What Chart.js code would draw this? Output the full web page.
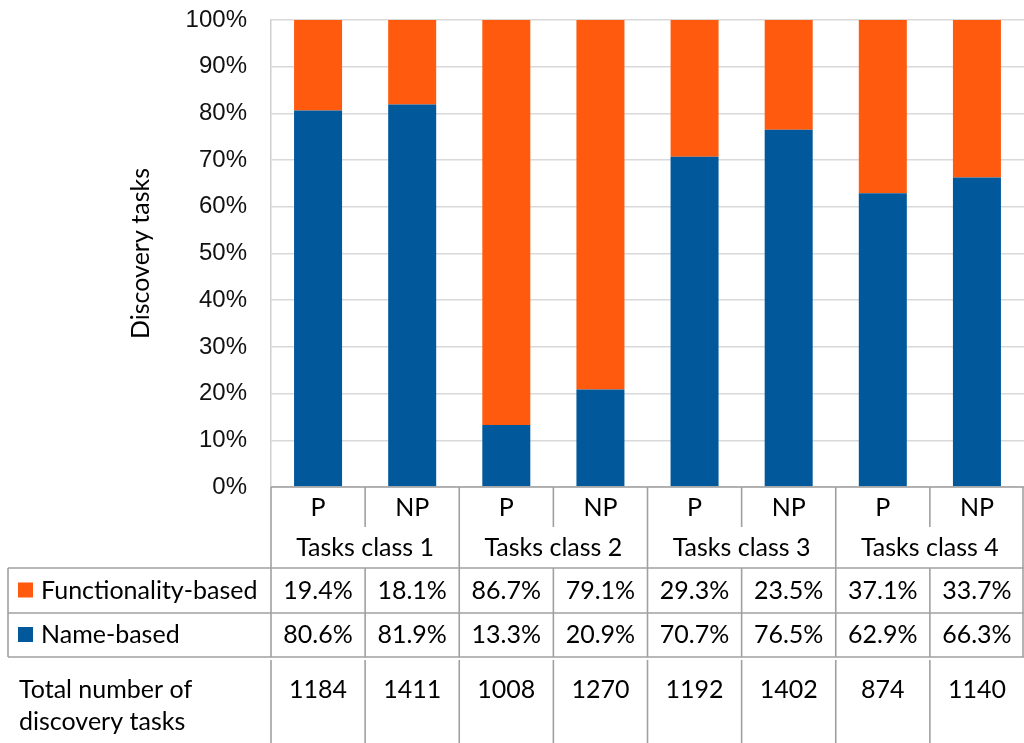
<!DOCTYPE html>
<html>
<head>
<meta charset="utf-8">
<script src="https://cdn.jsdelivr.net/npm/chart.js@4.4.1/dist/chart.umd.min.js"></script>
<style>
  html, body { margin: 0; padding: 0; background: #fff; }
  #wrap { width: 1024px; height: 743px; position: relative; }
</style>
</head>
<body>
<div id="wrap"><canvas id="chart"></canvas></div>
<script>
// data
const groupLabels = ['Tasks class 1', 'Tasks class 2', 'Tasks class 3', 'Tasks class 4'];
const subLabels = ['P', 'NP', 'P', 'NP', 'P', 'NP', 'P', 'NP'];
const functionalityBased = [19.4, 18.1, 86.7, 79.1, 29.3, 23.5, 37.1, 33.7];
const nameBased = [80.6, 81.9, 13.3, 20.9, 70.7, 76.5, 62.9, 66.3];
const totalTasks = [1184, 1411, 1008, 1270, 1192, 1402, 874, 1140];
const seriesNames = ['Functionality-based', 'Name-based'];
const totalLabel = ['Total number of', 'discovery tasks'];

const ORANGE = '#ff5a0e';
const BLUE = '#01599b';
const LINE = '#a0a0a0';
const TABLE_FONT = '25px Lato';

// draws the data table under the plot, aligned to the category columns
const dataTable = {
    id: 'dataTable',
    afterDraw(chart) {
        const ctx = chart.ctx;
        const a = chart.chartArea;
        const n = subLabels.length;
        const colW = (a.right - a.left) / n;
        const edge = i => a.left + i * colW;
        const mid = i => a.left + (i + 0.5) * colW;

        const y0 = a.bottom;      // top of P/NP row
        const y1 = y0 + 40;       // top of group row
        const y2 = y0 + 81;       // top of legend rows
        const y3 = y2 + 45;
        const y4 = y3 + 44;
        const y5 = y4 + 3;        // top of totals row
        const yEnd = chart.height;
        const legendLeft = 8;

        ctx.save();
        ctx.strokeStyle = LINE;
        ctx.lineWidth = 1.6;
        const line = (xa, ya, xb, yb) => {
            ctx.beginPath();
            ctx.moveTo(xa, ya);
            ctx.lineTo(xb, yb);
            ctx.stroke();
        };

        // category header rows
        line(a.left, y0, a.right, y0);
        for (let i = 0; i <= n; i++) {
            const x = Math.min(edge(i), a.right - 1);
            line(x, y0, x, i % 2 === 0 ? y2 : y1);
        }
        // legend rows
        line(legendLeft, y2, a.right, y2);
        line(legendLeft, y3, a.right, y3);
        line(legendLeft, y4, a.right, y4);
        line(legendLeft, y2, legendLeft, y4);
        for (let i = 0; i <= n; i++) {
            const x = Math.min(edge(i), a.right - 1);
            line(x, y2, x, y4);
            if (i < n) line(x, y5, x, yEnd);
        }

        ctx.fillStyle = '#000';
        ctx.font = TABLE_FONT;
        ctx.textBaseline = 'middle';
        ctx.textAlign = 'center';
        subLabels.forEach((s, i) => ctx.fillText(s, mid(i), (y0 + y1) / 2 + 1));
        groupLabels.forEach((g, k) => ctx.fillText(g, edge(2 * k + 1), (y1 + y2) / 2));

        const fmt = v => v.toFixed(1) + '%';
        functionalityBased.forEach((v, i) => ctx.fillText(fmt(v), mid(i), (y2 + y3) / 2));
        nameBased.forEach((v, i) => ctx.fillText(fmt(v), mid(i), (y3 + y4) / 2));
        totalTasks.forEach((v, i) => ctx.fillText(String(v), mid(i), y5 + 30));

        ctx.textAlign = 'left';
        ctx.fillStyle = ORANGE;
        ctx.fillRect(18, (y2 + y3) / 2 - 8, 15, 15);
        ctx.fillStyle = BLUE;
        ctx.fillRect(18, (y3 + y4) / 2 - 8, 15, 15);
        ctx.fillStyle = '#000';
        ctx.fillText(seriesNames[0], 41, (y2 + y3) / 2);
        ctx.fillText(seriesNames[1], 41, (y3 + y4) / 2);
        ctx.fillText(totalLabel[0], 19, y5 + 30);
        ctx.fillText(totalLabel[1], 19, y5 + 62);
        ctx.restore();
    }
};

new Chart(document.getElementById('chart'), {
    type: 'bar',
    data: {
        labels: subLabels,
        datasets: [
            {
                label: seriesNames[1],
                data: nameBased,
                backgroundColor: BLUE,
                borderWidth: 0,
                barPercentage: 0.51,
                categoryPercentage: 1
            },
            {
                label: seriesNames[0],
                data: functionalityBased,
                backgroundColor: ORANGE,
                borderWidth: 0,
                barPercentage: 0.51,
                categoryPercentage: 1
            }
        ]
    },
    options: {
        responsive: true,
        maintainAspectRatio: false,
        animation: false,
        layout: { padding: { top: 20, left: 0, right: 0, bottom: 256 } },
        plugins: {
            legend: { display: false },
            tooltip: { enabled: false }
        },
        scales: {
            x: {
                stacked: true,
                display: false
            },
            y: {
                stacked: true,
                min: 0,
                max: 100,
                ticks: {
                    stepSize: 10,
                    padding: 24,
                    color: '#111',
                    font: { family: 'Liberation Sans', size: 24 },
                    callback: v => v + '%'
                },
                grid: { color: '#d9d9d9', lineWidth: 1.5, drawTicks: false },
                border: { color: '#cfcfcf', width: 1.5 },
                title: {
                    display: true,
                    text: 'Discovery tasks',
                    color: '#000',
                    font: { family: 'Lato', size: 25 },
                    padding: { top: 126, bottom: 0 }
                },
                afterFit: scale => {
                    scale.width = 271;
                    scale.paddingTop = 0;
                    scale.paddingBottom = 0;
                }
            }
        }
    },
    plugins: [dataTable]
});
</script>
</body>
</html>
